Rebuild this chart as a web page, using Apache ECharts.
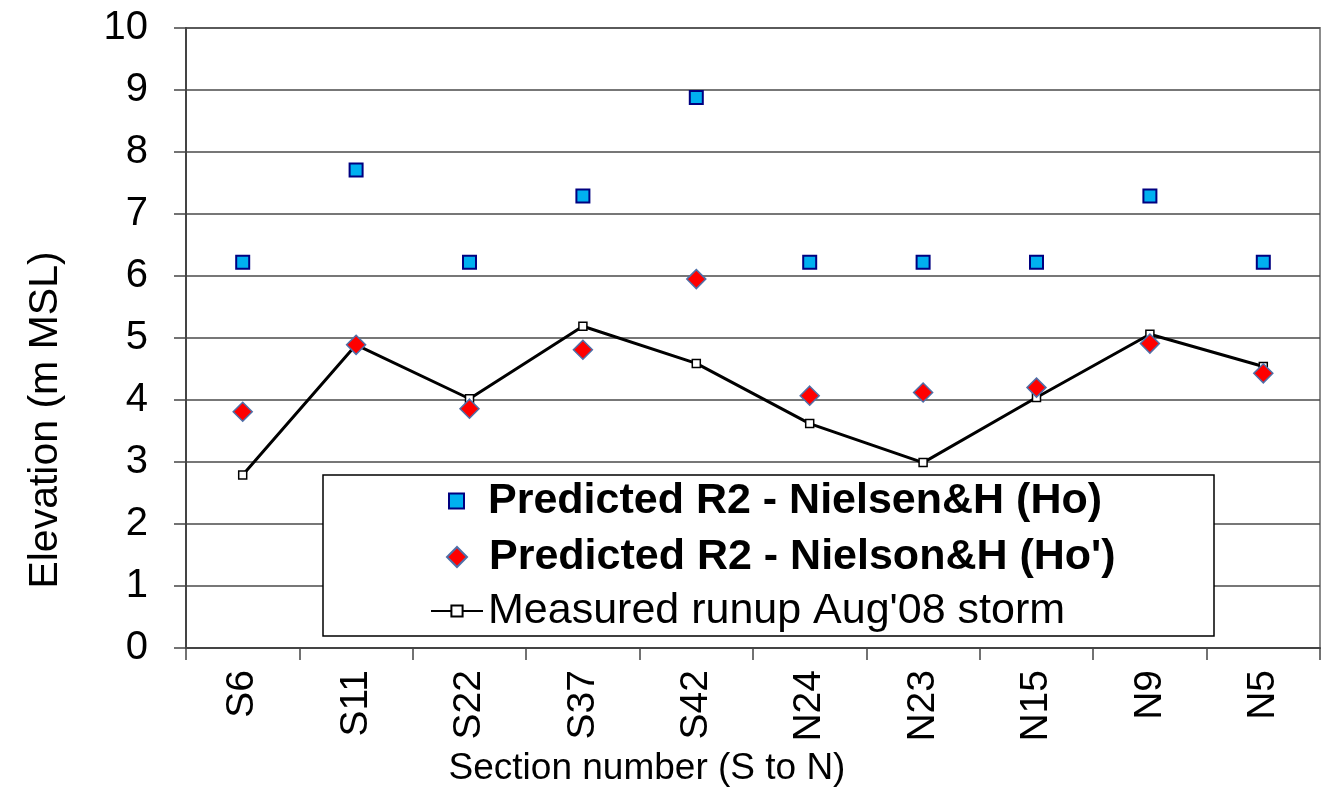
<!DOCTYPE html>
<html>
<head>
<meta charset="utf-8">
<script src="https://cdn.jsdelivr.net/npm/echarts@6/dist/echarts.min.js"></script>
<style>html,body{margin:0;padding:0;background:#fff;}#c{width:1328px;height:788px;}</style>
</head>
<body>
<div id="c"></div>
<script>
var categories = ['S6','S11','S22','S37','S42','N24','N23','N15','N9','N5'];
var predHo = [6.22, 7.71, 6.22, 7.29, 8.88, 6.22, 6.22, 6.22, 7.29, 6.22];
var predHoP = [3.81, 4.89, 3.86, 4.81, 5.95, 4.07, 4.12, 4.20, 4.91, 4.43];
var measured = [2.79, 4.89, 4.02, 5.19, 4.59, 3.62, 2.99, 4.04, 5.06, 4.54];
var yTicks = [0,1,2,3,4,5,6,7,8,9,10];
var seriesNames = ['Predicted R2 - Nielsen&H (Ho)', "Predicted R2 - Nielson&H (Ho')", "Measured runup Aug'08 storm"];
var xTitle = 'Section number (S to N)';
var yTitle = 'Elevation (m MSL)';

var FONT = '"Liberation Sans", Arial, sans-serif';
var chart = echarts.init(document.getElementById('c'), null, {renderer: 'canvas'});
function richName(gap, bold) {
  return {
    formatter: function (n) { return '{s|}{t|' + n + '}'; },
    textStyle: {
      color: '#000', fontFamily: FONT, lineHeight: 46,
      rich: {
        s: {width: gap, height: 10},
        t: {fontSize: 43, fontWeight: bold ? 'bold' : 'normal', fontFamily: FONT, color: '#000', lineHeight: 46}
      }
    }
  };
}
var l1 = richName(19, true), l2 = richName(17, true);
chart.setOption({
  animation: false,
  backgroundColor: '#fff',
  grid: {left: 186, right: 8, top: 28, bottom: 140, show: true, borderColor: '#8c8c8c', borderWidth: 2},
  xAxis: {
    type: 'category', data: categories,
    axisLine: {lineStyle: {color: '#444', width: 2}},
    axisTick: {show: true, length: 12, lineStyle: {color: '#444', width: 1.5}},
    axisLabel: {rotate: 90, margin: 22, color: '#000', fontSize: 39, fontFamily: FONT},
    splitLine: {show: false}
  },
  yAxis: {
    type: 'value', min: yTicks[0], max: yTicks[yTicks.length-1], interval: 1,
    axisLine: {show: true, lineStyle: {color: '#444', width: 2}},
    axisTick: {show: true, length: 12, lineStyle: {color: '#444', width: 1.5}},
    axisLabel: {margin: 38, color: '#000', fontSize: 40, fontFamily: FONT},
    splitLine: {lineStyle: {color: '#4a4a4a', width: 1.5}}
  },
  graphic: [
    {type: 'rect', z: 100, shape: {x: 323, y: 475, width: 891, height: 161},
     style: {fill: '#fff', stroke: '#000', lineWidth: 1.5}},
    {type: 'text', z: 100, x: 46, y: 420, rotation: Math.PI/2,
     style: {text: yTitle, fill: '#000', font: '41px ' + FONT, textAlign: 'center', textVerticalAlign: 'middle'}},
    {type: 'text', z: 100, x: 647, y: 769,
     style: {text: xTitle, fill: '#000', font: '37px ' + FONT, textAlign: 'center', textVerticalAlign: 'middle'}}
  ],
  legend: [
    {data: [{name: seriesNames[0], icon: 'rect'}], left: 448, top: 478, padding: 0, z: 110,
     itemWidth: 15, itemHeight: 15, itemGap: 0,
     formatter: l1.formatter, textStyle: l1.textStyle},
    {data: [{name: seriesNames[1], icon: 'diamond'}], left: 446, top: 534, padding: 0, z: 110,
     itemWidth: 20, itemHeight: 20, itemGap: 0,
     formatter: l2.formatter, textStyle: l2.textStyle},
    {data: [{name: seriesNames[2]}], left: 430, top: 588, padding: 0, z: 110,
     itemWidth: 52, itemHeight: 14, itemGap: 0,
     textStyle: {fontSize: 43, fontFamily: FONT, color: '#000', lineHeight: 46}}
  ],
  series: [
    {name: seriesNames[0], type: 'scatter', data: predHo, symbol: 'rect', symbolSize: 13, z: 3,
     itemStyle: {color: '#00B0F0', borderColor: '#000080', borderWidth: 2, opacity: 1}},
    {name: seriesNames[1], type: 'scatter', data: predHoP, symbol: 'diamond', symbolSize: 19, z: 4,
     itemStyle: {color: '#FF0000', borderColor: '#4F6FA8', borderWidth: 1.5, opacity: 1}},
    {name: seriesNames[2], type: 'line', data: measured, symbol: 'rect', symbolSize: 8, z: 2,
     lineStyle: {color: '#000', width: 3},
     itemStyle: {color: '#fff', borderColor: '#000', borderWidth: 1.5}}
  ]
});
</script>
</body>
</html>
